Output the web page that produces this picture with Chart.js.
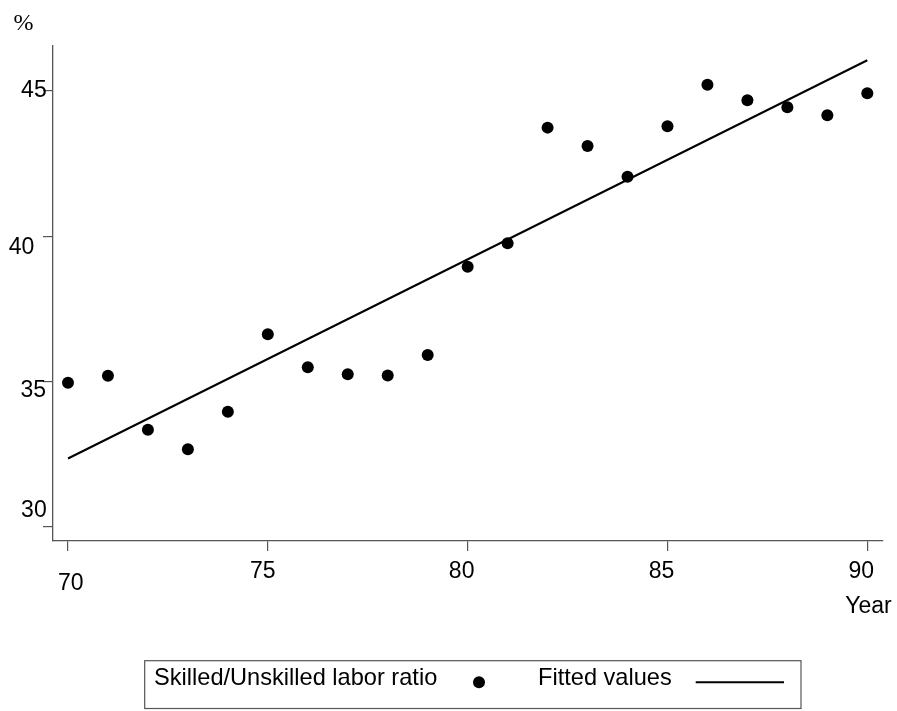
<!DOCTYPE html>
<html>
<head>
<meta charset="utf-8">
<script src="https://cdn.jsdelivr.net/npm/chart.js@4.4.1/dist/chart.umd.min.js"></script>
<style>
  html, body { margin: 0; padding: 0; background: #fff; }
</style>
</head>
<body>
<canvas id="laborChart" width="897" height="711"></canvas>
<script>
// data
var years = [70, 71, 72, 73, 74, 75, 76, 77, 78, 79, 80, 81, 82, 83, 84, 85, 86, 87, 88, 89, 90];
var ratioValues = [34.96, 35.20, 33.34, 32.67, 33.96, 36.63, 35.49, 35.25, 35.21, 35.91, 38.95, 39.76, 43.74, 43.11, 42.05, 43.79, 45.22, 44.68, 44.44, 44.17, 44.92];
var fitYears = [70, 90];
var fitValues = [32.35, 46.06];
var xTicks = [70, 75, 80, 85, 90];
var yTicks = [30, 35, 40, 45];

var FONT = '23px "Liberation Sans", Arial, sans-serif';
var LEGEND_FONT = '23.6px "Liberation Sans", Arial, sans-serif';
var AXIS_COLOR = '#555555';

// build the point lists
var ratioPoints = [];
for (var i = 0; i < years.length; i++) {
  ratioPoints.push({ x: years[i], y: ratioValues[i] });
}
var fitPoints = [];
for (var j = 0; j < fitYears.length; j++) {
  fitPoints.push({ x: fitYears[j], y: fitValues[j] });
}

// tick labels sit a little off the ticks in the original, so draw them here
var labelPlugin = {
  id: 'labelPlugin',
  afterDraw: function (chart) {
    var ctx = chart.ctx;
    var xs = chart.scales.x;
    var ys = chart.scales.y;
    ctx.save();
    ctx.font = FONT;
    ctx.fillStyle = '#000';
    ctx.textBaseline = 'alphabetic';

    // x labels: [dx, baseline]
    var xPos = { 70: [2.7, 590], 75: [-5, 577.5], 80: [-6, 577.5], 85: [-6, 577.5], 90: [-6, 577.5] };
    ctx.textAlign = 'center';
    xTicks.forEach(function (v) {
      var p = xPos[v];
      ctx.fillText(String(v), xs.getPixelForValue(v) + p[0], p[1]);
    });

    // y labels: [right edge, dy from tick]
    var yPos = { 45: [46.7, 6.3], 40: [34.3, 17.3], 35: [46, 15.7], 30: [46.7, -10] };
    ctx.textAlign = 'right';
    yTicks.forEach(function (v) {
      var p = yPos[v];
      ctx.fillText(String(v), p[0], ys.getPixelForValue(v) + p[1]);
    });

    // axis titles
    ctx.textAlign = 'right';
    ctx.fillText('Year', 891.7, 612.7);
    ctx.font = '24px "Liberation Serif", "Times New Roman", serif';
    ctx.textAlign = 'left';
    ctx.fillText('%', 13.5, 30);

    // legend box
    var ds = chart.data.datasets;
    ctx.font = LEGEND_FONT;
    ctx.strokeStyle = AXIS_COLOR;
    ctx.lineWidth = 1.2;
    ctx.strokeRect(144.7, 660.7, 656.3, 47.8);
    ctx.textAlign = 'left';
    ctx.fillText(ds[0].label, 154, 685);
    ctx.beginPath();
    ctx.arc(479, 682.3, 6, 0, Math.PI * 2);
    ctx.fill();
    ctx.fillText(ds[1].label, 538, 685);
    ctx.strokeStyle = '#000';
    ctx.lineWidth = 2;
    ctx.beginPath();
    ctx.moveTo(695.7, 682.3);
    ctx.lineTo(784, 682.3);
    ctx.stroke();
    ctx.restore();
  }
};

var ctx1 = document.getElementById('laborChart');
var laborChart = new Chart(ctx1, {
  type: 'scatter',
  data: {
    datasets: [
      {
        label: 'Skilled/Unskilled labor ratio',
        data: ratioPoints,
        pointRadius: 6,
        pointBackgroundColor: '#000',
        pointBorderWidth: 0,
        showLine: false
      },
      {
        label: 'Fitted values',
        data: fitPoints,
        showLine: true,
        borderColor: '#000',
        borderWidth: 2,
        pointRadius: 0
      }
    ]
  },
  options: {
    responsive: false,
    animation: false,
    layout: { padding: { top: 46, right: 14.7, left: 0, bottom: 0 } },
    plugins: {
      legend: { display: false },
      tooltip: { enabled: false }
    },
    scales: {
      x: {
        type: 'linear',
        min: 69.625,
        max: 90.375,
        afterBuildTicks: function (s) {
          s.ticks = xTicks.map(function (v) { return { value: v }; });
        },
        afterFit: function (s) { s.height = 170; },
        ticks: { display: false },
        grid: { drawOnChartArea: false, drawTicks: true, tickLength: 10, color: AXIS_COLOR, lineWidth: 1.2 },
        border: { display: true, color: AXIS_COLOR, width: 1.3 }
      },
      y: {
        type: 'linear',
        min: 29.51,
        max: 46.55,
        afterBuildTicks: function (s) {
          s.ticks = yTicks.map(function (v) { return { value: v }; });
        },
        afterFit: function (s) { s.width = 53; },
        ticks: { display: false },
        grid: { drawOnChartArea: false, drawTicks: true, tickLength: 10, color: AXIS_COLOR, lineWidth: 1.2 },
        border: { display: true, color: AXIS_COLOR, width: 1.3 }
      }
    }
  },
  plugins: [labelPlugin]
});
</script>
</body>
</html>
